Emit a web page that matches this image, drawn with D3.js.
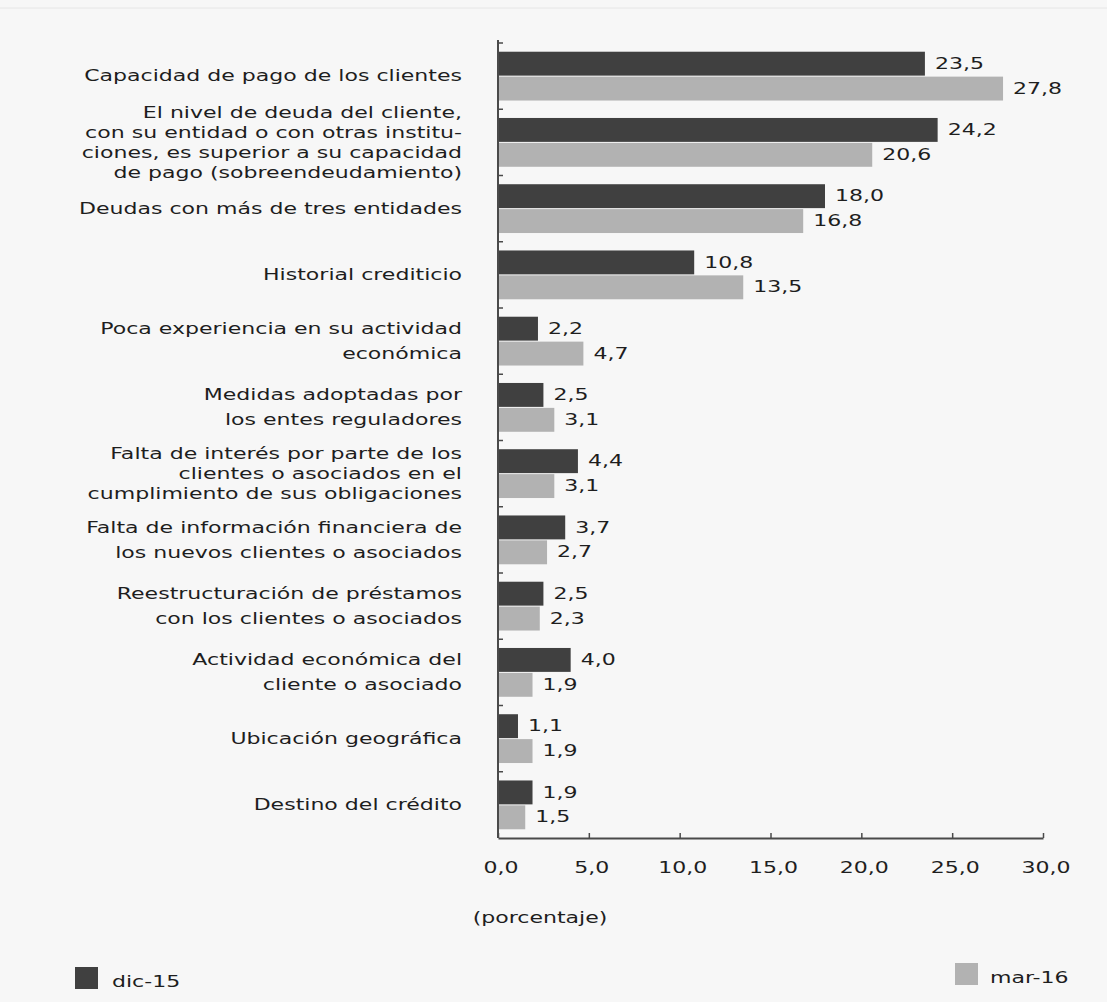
<!DOCTYPE html>
<html>
<head>
<meta charset="utf-8">
<script src="https://cdn.jsdelivr.net/npm/d3@7"></script>
<style>
  html, body { margin: 0; padding: 0; background: #f7f7f7; }
  svg { display: block; }
  text { font-family: "DejaVu Sans", Verdana, sans-serif; fill: #1e1e1e; }
</style>
</head>
<body>
<svg id="chart" width="1107" height="1002"></svg>
<script>
// Reasons cited for tightening credit conditions (percent of respondents)
const categories = [
  ["Capacidad de pago de los clientes"],
  ["El nivel de deuda del cliente,", "con su entidad o con otras institu-", "ciones, es superior a su capacidad", "de pago (sobreendeudamiento)"],
  ["Deudas con más de tres entidades"],
  ["Historial crediticio"],
  ["Poca experiencia en su actividad", "económica"],
  ["Medidas adoptadas por", "los entes reguladores"],
  ["Falta de interés por parte de los", "clientes o asociados en el", "cumplimiento de sus obligaciones"],
  ["Falta de información financiera de", "los nuevos clientes o asociados"],
  ["Reestructuración de préstamos", "con los clientes o asociados"],
  ["Actividad económica del", "cliente o asociado"],
  ["Ubicación geográfica"],
  ["Destino del crédito"]
];
const seriesNames = ["dic-15", "mar-16"];
const dic15 = [23.5, 24.2, 18.0, 10.8, 2.2, 2.5, 4.4, 3.7, 2.5, 4.0, 1.1, 1.9];
const mar16 = [27.8, 20.6, 16.8, 13.5, 4.7, 3.1, 3.1, 2.7, 2.3, 1.9, 1.9, 1.5];
const xTicks = [0, 5, 10, 15, 20, 25, 30];
const axisTitle = "(porcentaje)";

const colors = { "dic-15": "#404040", "mar-16": "#b2b2b2" };
const fmt = v => v.toFixed(1).replace(".", ",");
const stretch = 1.47;      // wide lettering
const fontSize = 15;

const svg = d3.select("#chart");

// faint frame line along the top
svg.append("line").attr("x1", 0).attr("x2", 1107).attr("y1", 8).attr("y2", 8)
  .attr("stroke", "#e6e6e6").attr("stroke-width", 1);

const plot = { left: 498, right: 1043, top: 43, bottom: 838 };

const x = d3.scaleLinear().domain([0, 30]).range([plot.left, plot.right]);
const idx = d3.range(categories.length);
const y = d3.scaleBand().domain(idx).range([plot.top, plot.bottom]);
const sub = d3.scaleBand().domain(seriesNames).range([0, y.bandwidth()])
  .paddingInner(0.04).paddingOuter(0.35);

const rows = idx.map(i => ({ i, lines: categories[i], values: [
  { s: "dic-15", v: dic15[i] }, { s: "mar-16", v: mar16[i] }
]}));

// stretched text helper
function wideText(sel, tx, ty, anchor) {
  return sel.append("text")
    .attr("transform", `translate(${tx},${ty}) scale(${stretch},1)`)
    .attr("text-anchor", anchor)
    .attr("dominant-baseline", "central")
    .style("font-size", fontSize + "px");
}

// bars
const groups = svg.append("g").selectAll("g").data(rows).join("g")
  .attr("transform", d => `translate(0,${y(d.i)})`);

groups.selectAll("rect").data(d => d.values).join("rect")
  .attr("x", x(0))
  .attr("y", d => sub(d.s))
  .attr("width", d => x(d.v) - x(0))
  .attr("height", sub.bandwidth())
  .attr("fill", d => colors[d.s]);

groups.each(function(d) {
  const g = d3.select(this);
  d.values.forEach(b => {
    wideText(g, x(b.v) + 10, sub(b.s) + sub.bandwidth() / 2, "start").text(fmt(b.v));
  });
  // category label, right aligned, vertically centred on the group
  const lh = d.lines.length >= 3 ? 20 : 25;
  const c = y.bandwidth() / 2;
  d.lines.forEach((ln, k) => {
    const ty = c + (k - (d.lines.length - 1) / 2) * lh;
    wideText(g, 462, ty, "end").text(ln);
  });
});

// vertical category axis with boundary ticks
const axisColor = "#4a4a4a";
svg.append("line")
  .attr("x1", x(0)).attr("x2", x(0))
  .attr("y1", plot.top - 3).attr("y2", plot.bottom)
  .attr("stroke", axisColor).attr("stroke-width", 2);
svg.append("g").selectAll("line").data(idx).join("line")
  .attr("x1", x(0)).attr("x2", x(0) + 5)
  .attr("y1", d => y(d)).attr("y2", d => y(d))
  .attr("stroke", axisColor).attr("stroke-width", 1.5);

// horizontal value axis
const xAxis = d3.axisBottom(x).tickValues(xTicks).tickSize(0).tickFormat(fmt);
const gx = svg.append("g").attr("transform", `translate(0,${plot.bottom})`).call(xAxis);
gx.select(".domain").attr("stroke", axisColor).attr("stroke-width", 2);
gx.selectAll(".tick text").remove();
gx.selectAll(".tick").append("line")
  .attr("y1", 0).attr("y2", -5).attr("stroke", axisColor).attr("stroke-width", 1.5);
xTicks.forEach(t => {
  wideText(svg, x(t) + 3, 868, "middle").text(fmt(t));
});

wideText(svg, 540, 918, "middle").text(axisTitle);

// legend
const legend = [
  { s: "dic-15", sx: 75, sy: 967, tx: 112, ty: 982 },
  { s: "mar-16", sx: 955, sy: 963, tx: 990, ty: 978 }
];
legend.forEach(l => {
  svg.append("rect").attr("x", l.sx).attr("y", l.sy).attr("width", 23).attr("height", 22)
    .attr("fill", colors[l.s]);
  wideText(svg, l.tx, l.ty, "start").text(l.s);
});
</script>
</body>
</html>
